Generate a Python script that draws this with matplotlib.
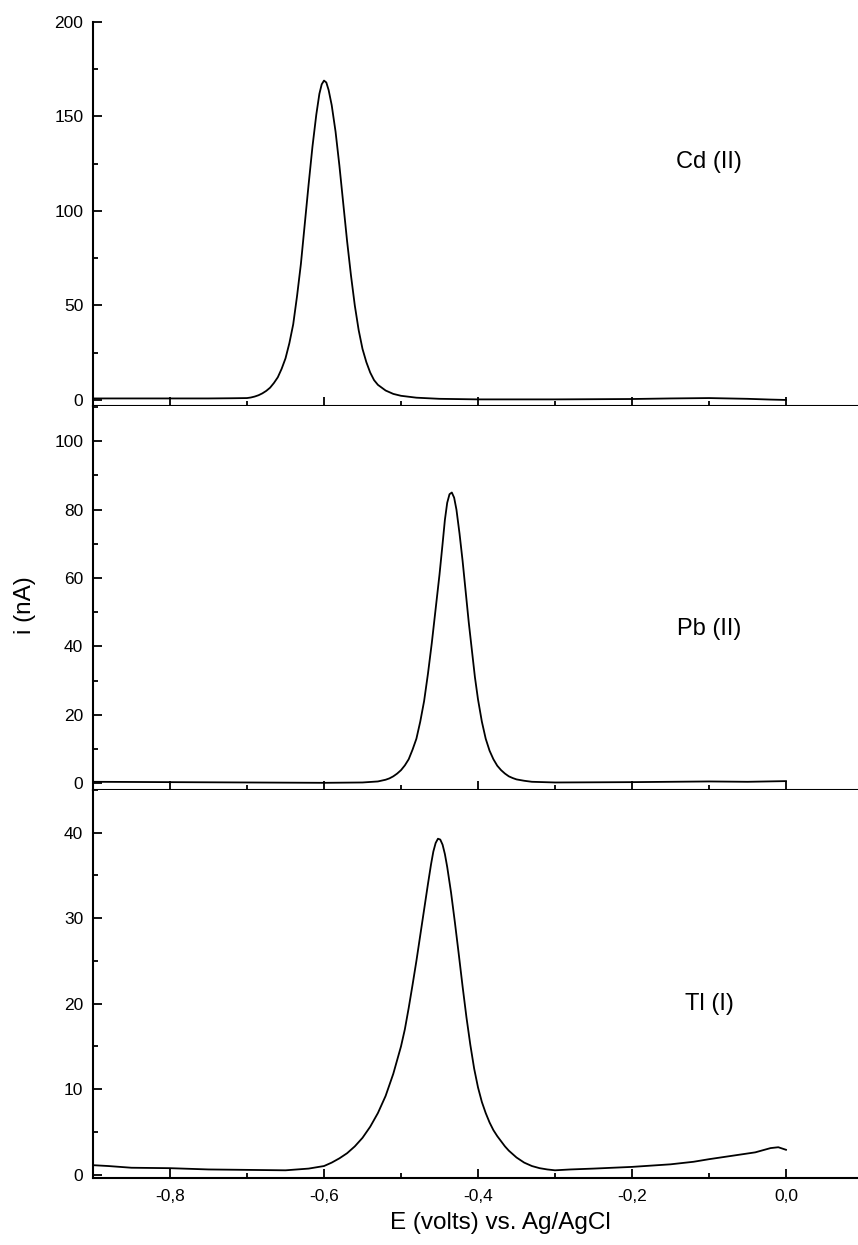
import numpy as np
import matplotlib
matplotlib.use('Agg')
import matplotlib.pyplot as plt
from matplotlib.ticker import MultipleLocator, FuncFormatter

plt.rcParams['font.family'] = ['Liberation Sans', 'DejaVu Sans']

# Cd (II) stripping peak
cd_x = [-0.900, -0.850, -0.800, -0.750, -0.720, -0.700, -0.695, -0.690, -0.685, -0.680,
        -0.675, -0.670, -0.665, -0.660, -0.655, -0.650, -0.645, -0.640, -0.635, -0.630,
        -0.625, -0.620, -0.615, -0.610, -0.606, -0.603, -0.600, -0.597, -0.594, -0.590,
        -0.585, -0.580, -0.575, -0.570, -0.565, -0.560, -0.555, -0.550, -0.545, -0.540,
        -0.535, -0.530, -0.520, -0.510, -0.500, -0.480, -0.450, -0.400, -0.300, -0.200,
        -0.150, -0.100, -0.050, -0.020, 0.000]
cd_y = [0.8, 0.8, 0.8, 0.8, 0.9, 1.0, 1.3, 1.8, 2.5, 3.5,
        4.8, 6.5, 9, 12, 16.5, 22, 30, 40, 55, 72,
        93, 114, 134, 151, 162, 167, 169, 168, 164, 156,
        142, 124, 104, 84, 66, 50, 37, 27, 20, 14.5,
        10.5, 8, 5, 3.2, 2.2, 1.2, 0.6, 0.3, 0.3, 0.5,
        0.8, 1.0, 0.6, 0.2, 0.0]

# Pb (II) stripping peak
pb_x = [-0.900, -0.850, -0.800, -0.700, -0.600, -0.550, -0.530, -0.520, -0.515, -0.510,
        -0.505, -0.500, -0.495, -0.490, -0.485, -0.480, -0.475, -0.470, -0.465, -0.460,
        -0.455, -0.450, -0.446, -0.443, -0.440, -0.437, -0.434, -0.431, -0.428, -0.424,
        -0.420, -0.416, -0.412, -0.408, -0.404, -0.400, -0.395, -0.390, -0.385, -0.380,
        -0.375, -0.370, -0.365, -0.360, -0.355, -0.350, -0.340, -0.330, -0.300, -0.200,
        -0.100, -0.050, 0.000]
pb_y = [0.4, 0.35, 0.3, 0.2, 0.1, 0.2, 0.5, 1.0, 1.4, 2.0,
        2.8, 3.8, 5.2, 7, 9.8, 13, 18, 24, 32, 41,
        51, 61, 70, 77, 82, 84.5, 85, 83.5, 80, 73,
        65, 56, 47, 39, 31, 24.5, 18, 13, 9.5, 7,
        5.1, 3.8, 2.8, 2.0, 1.5, 1.1, 0.7, 0.4, 0.2, 0.3,
        0.5, 0.4, 0.6]

# Tl (I) stripping peak
tl_x = [-0.900, -0.880, -0.850, -0.800, -0.750, -0.700, -0.650, -0.620, -0.600, -0.590,
        -0.580, -0.570, -0.560, -0.550, -0.540, -0.530, -0.520, -0.510, -0.500, -0.495,
        -0.490, -0.485, -0.480, -0.475, -0.470, -0.465, -0.461, -0.458, -0.455, -0.452,
        -0.449, -0.446, -0.443, -0.440, -0.435, -0.430, -0.425, -0.420, -0.415, -0.410,
        -0.405, -0.400, -0.395, -0.390, -0.385, -0.380, -0.375, -0.370, -0.365, -0.360,
        -0.355, -0.350, -0.345, -0.340, -0.330, -0.320, -0.310, -0.300, -0.280, -0.250,
        -0.200, -0.150, -0.120, -0.100, -0.070, -0.040, -0.020, -0.010, 0.000]
tl_y = [1.1, 1.0, 0.8, 0.75, 0.6, 0.55, 0.5, 0.7, 1.0, 1.4,
        1.9, 2.5, 3.3, 4.3, 5.6, 7.2, 9.2, 11.8, 15, 17,
        19.5, 22.2, 25, 28, 31, 34, 36.3, 37.8, 38.8, 39.3,
        39.2, 38.6, 37.5, 36, 33, 29.5, 25.8, 22, 18.4, 15.2,
        12.4, 10.2, 8.5, 7.2, 6.1, 5.2, 4.5, 3.9, 3.3, 2.8,
        2.4, 2.0, 1.7, 1.4, 1.0, 0.75, 0.6, 0.5, 0.6, 0.7,
        0.9, 1.2, 1.5, 1.8, 2.2, 2.6, 3.1, 3.2, 2.9]

panels = [
    dict(x=cd_x, y=cd_y, label='Cd (II)', ylim=(-3.2, 200), major=50, minor=25, label_y=126),
    dict(x=pb_x, y=pb_y, label='Pb (II)', ylim=(-2.0, 110.3), major=20, minor=10, label_y=45),
    dict(x=tl_x, y=tl_y, label='Tl (I)', ylim=(-0.4, 45.0), major=10, minor=5, label_y=20),
]

W, H = 858, 1245
fig = plt.figure(figsize=(W / 100, H / 100), dpi=100)

# pixel boxes (top, bottom) of each panel
boxes = [(22, 406), (406, 790), (790, 1178)]
left_px = 93

comma = FuncFormatter(lambda v, p: f'{v:.1f}'.replace('.', ','))

for p, (top, bot) in zip(panels, boxes):
    ax = fig.add_axes([left_px / W, 1 - bot / H, 1 - left_px / W, (bot - top) / H])
    ax.plot(p['x'], p['y'], color='black', linewidth=1.3)
    ax.set_xlim(-0.9, 0.0935)
    ax.set_ylim(*p['ylim'])
    ax.spines['top'].set_visible(False)
    ax.spines['right'].set_visible(False)
    for s in ('left', 'bottom'):
        ax.spines[s].set_linewidth(1.5)
    ax.xaxis.set_minor_locator(MultipleLocator(0.1))
    ax.xaxis.set_major_formatter(comma)
    ax.yaxis.set_major_locator(MultipleLocator(p['major']))
    ax.yaxis.set_minor_locator(MultipleLocator(p['minor']))
    ax.set_xticks([-0.8, -0.6, -0.4, -0.2, 0.0])
    ax.tick_params(axis='both', which='both', direction='in', width=1.3, labelsize=12.5)
    ax.tick_params(axis='both', which='major', length=6.5)
    ax.tick_params(axis='both', which='minor', length=3.5)
    ax.tick_params(axis='x', which='major', pad=8)
    ax.tick_params(axis='y', which='major', pad=7)
    ax.text(-0.1, p['label_y'], p['label'], fontsize=17, ha='center', va='center')

fig.text(500 / W, 1 - 1223 / H, 'E (volts) vs. Ag/AgCl', fontsize=17.5, ha='center', va='center')
fig.text(25 / W, 1 - 605 / H, 'i (nA)', fontsize=17.5, ha='center', va='center', rotation=90)

fig.savefig('out.png', dpi=100)
